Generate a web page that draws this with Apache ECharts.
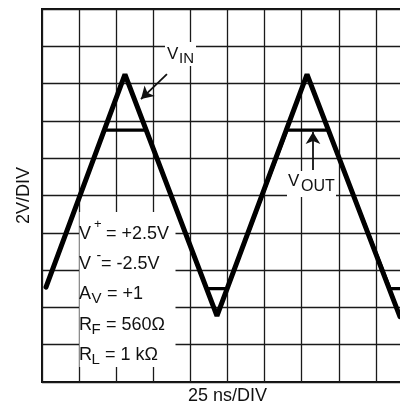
<!DOCTYPE html>
<html>
<head>
<meta charset="utf-8">
<script src="https://cdn.jsdelivr.net/npm/echarts@6/dist/echarts.min.js"></script>
<style>
html,body{margin:0;padding:0;background:#fff;}
#chart{width:400px;height:404px;}
</style>
</head>
<body>
<div id="chart"></div>
<script>
// Time axis: 25 ns per division, 10 divisions
const xMin = 0, xMax = 250, xStep = 25;
// Voltage axis: 2 V per division, 10 divisions
const yMin = -10, yMax = 10, yStep = 2;

// Input triangle (ns, V)
const vinTime  = [2.7, 55.9, 117.9, 178.6, 241.2];
const vinVolts = [-4.91, 6.5, -6.45, 6.5, -6.5];

// Output (clipped) waveform (ns, V)
const voutTime  = [2.7, 42.1, 70.4, 110.8, 124.7, 165.1, 192.7, 234.5, 241.2];
const voutVolts = [-4.91, 3.51, 3.51, -4.99, -4.99, 3.51, 3.51, -4.99, -4.99];

// Annotation arrows (ns, V): [from, to]
const vinArrow  = [[84.2, 6.51], [66.7, 5.17]];
const voutArrow = [[182.6, 1.37], [182.6, 3.40]];

const xName = '25 ns/DIV';
const yName = '2V/DIV';
const paramLines = [
  {main: 'V', sup: '+', rest: '= +2.5V'},
  {main: 'V', sup: '-', rest: '= -2.5V'},
  {main: 'A', sub: 'V', rest: '= +1'},
  {main: 'R', sub: 'F', rest: '= 560\u03A9'},
  {main: 'R', sub: 'L', rest: '= 1 k\u03A9'}
];

const FONT = '"Liberation Sans", Arial, sans-serif';
const INK = '#111';

const zip = (a, b) => a.map((v, i) => [v, b[i]]);

const chart = echarts.init(document.getElementById('chart'), null, {renderer: 'canvas'});

function txt(x, y, s, size, z) {
  return {type: 'text', x: x, y: y, z: z || 10,
    style: {text: s, font: size + 'px ' + FONT, fill: INK, align: 'left', verticalAlign: 'middle'}};
}

const graphics = [
  {type: 'rect', z: 1, shape: {x: 165, y: 42, width: 31, height: 24}, style: {fill: '#fff'}},
  {type: 'rect', z: 1, shape: {x: 287, y: 171, width: 49, height: 26}, style: {fill: '#fff'}},
  {type: 'rect', z: 1, shape: {x: 79.5, y: 212, width: 96, height: 155}, style: {fill: '#fff'}},
  txt(167, 54, 'V', 17), txt(179, 58.5, 'IN', 15),
  txt(288, 181.5, 'V', 17), txt(301, 186.5, 'OUT', 16)
];
const lineY = [233.7, 263.7, 294.3, 325, 355];
const restX = [106, 101, 107, 106, 105];
paramLines.forEach((p, i) => {
  const y = lineY[i];
  graphics.push(txt(79, y, p.main, 18));
  if (p.sup === '+') graphics.push(txt(94, y - 9.5, p.sup, 13));
  if (p.sup === '-') graphics.push(txt(96.5, y - 7.5, p.sup, 14));
  if (p.sub) graphics.push(txt(91.5, y + 5, p.sub, 15));
  graphics.push(txt(restX[i], y, p.rest, 18));
});

const axisCommon = {
  type: 'value',
  axisLabel: {show: false},
  axisTick: {show: false},
  axisLine: {show: false},
  splitLine: {show: true, lineStyle: {color: '#1a1a1a', width: 1.3}},
  nameTextStyle: {fontFamily: FONT, fontSize: 18, color: INK}
};

chart.setOption({
  animation: false,
  backgroundColor: '#fff',
  grid: {left: 42, top: 9, width: 371, height: 373, outerBoundsMode: 'none', containLabel: false,
    show: true, borderColor: INK, borderWidth: 2, backgroundColor: 'transparent'},
  xAxis: Object.assign({}, axisCommon, {min: xMin, max: xMax, interval: xStep,
    name: xName, nameLocation: 'middle', nameGap: 5}),
  yAxis: Object.assign({}, axisCommon, {min: yMin, max: yMax, interval: yStep,
    name: yName, nameLocation: 'middle', nameRotate: 90, nameGap: 9}),
  graphic: graphics,
  series: [
    {
      name: 'VIN', type: 'line', z: 3, symbol: 'none', silent: true,
      data: zip(vinTime, vinVolts),
      lineStyle: {color: '#000', width: 5, join: 'bevel', cap: 'round'}
    },
    {
      name: 'VOUT', type: 'line', z: 4, symbol: 'none', silent: true,
      data: zip(voutTime, voutVolts),
      lineStyle: {color: '#000', width: 3.2, join: 'bevel', cap: 'round'},
      markLine: {
        silent: true, animation: false,
        symbol: ['none', 'arrow'],
        symbolSize: [11, 12],
        label: {show: false},
        lineStyle: {color: INK, width: 1.8, type: 'solid'},
        emphasis: {disabled: true},
        data: [
          [{coord: vinArrow[0]}, {coord: vinArrow[1]}],
          [{coord: voutArrow[0]}, {coord: voutArrow[1]}]
        ]
      }
    }
  ]
});
</script>
</body>
</html>
